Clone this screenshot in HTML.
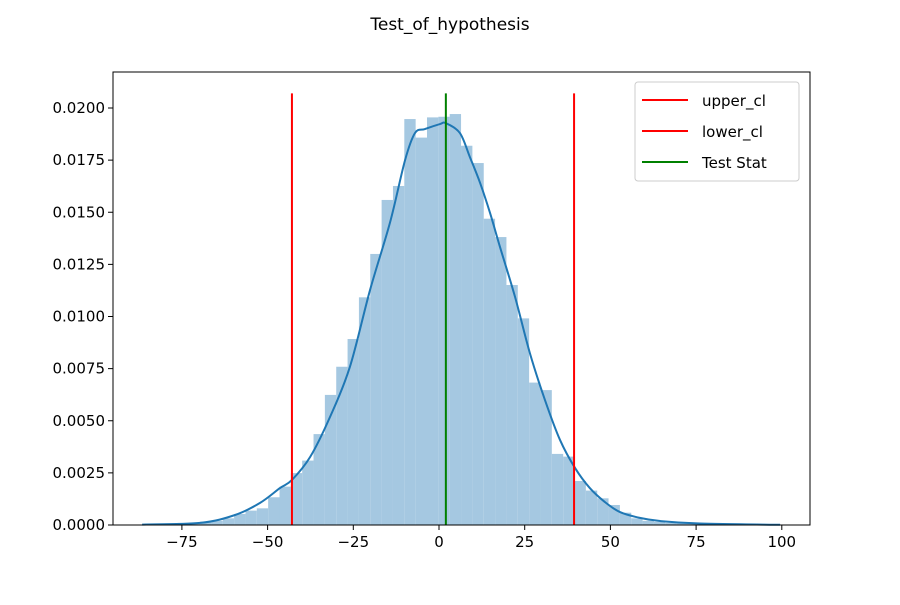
<!DOCTYPE html>
<html><head><meta charset="utf-8"><style>
body{margin:0;background:#fff}
svg text{font-family:"DejaVu Sans","Liberation Sans",sans-serif;fill:#000}
</style></head><body>
<svg id="chart" width="900" height="600" xmlns="http://www.w3.org/2000/svg">
<rect width="900" height="600" fill="#fff"/>
<text x="450" y="30" text-anchor="middle" font-size="17">Test_of_hypothesis</text>
<g id="bars"></g>
<g id="kde"></g>
<g id="vlines"></g>
<g id="axes"></g>
<g>
<rect x="635" y="82" width="164" height="99" rx="3" fill="#fff" fill-opacity="0.8" stroke="#ccc"/>
<g><line x1="642" y1="100" x2="688" y2="100" stroke="#ff0000" stroke-width="2"/><text x="702" y="106" font-size="15">upper_cl</text></g>
<g><line x1="642" y1="131" x2="688" y2="131" stroke="#ff0000" stroke-width="2"/><text x="702" y="137" font-size="15">lower_cl</text></g>
<g><line x1="642" y1="162" x2="688" y2="162" stroke="#008000" stroke-width="2"/><text x="702" y="168" font-size="15">Test Stat</text></g>
</g>
</svg>
<script>
const binStart = -86.25;
const binWidth = 3.31;
const histValues = [0.00003,0.00005,0.00005,0.0001,0.00012,0.00016,0.0002,0.00032,0.00053,0.00069,0.0008,0.00133,0.00184,0.00249,0.00309,0.00436,0.00624,0.00759,0.00892,0.01092,0.0130,0.01559,0.01626,0.01947,0.01858,0.01955,0.01958,0.01971,0.01819,0.01736,0.01469,0.01381,0.01151,0.00991,0.00683,0.00647,0.00341,0.00328,0.00211,0.00165,0.00128,0.00096,0.00059,0.00032,0.0002,0.00015,0.0001,0.00008,0.00005,0.00004,0.00003,0.00002];
const kdeX = [-86.6,-69.7,-59.5,-52.2,-46.4,-42.9,-37.6,-31.8,-26.0,-20.1,-14.3,-9.9,-7.0,-4.1,0.3,2.0,6.1,9.0,12.0,14.9,17.8,22.2,26.5,30.9,35.3,39.7,44.0,48.4,52.8,58.6,64.5,76.1,99.5];
const kdeY = [0.00002,0.0001,0.00048,0.00106,0.00177,0.00216,0.00326,0.00518,0.00758,0.01128,0.0145,0.0175,0.0188,0.01899,0.01923,0.01927,0.0188,0.01765,0.0164,0.01496,0.01333,0.01093,0.00825,0.006,0.00408,0.00273,0.00177,0.0011,0.00062,0.00034,0.00019,0.00007,0.00001];
const lowerCl = -42.9;
const upperCl = 39.4;
const testStat = 2.0;
const lineTop = 0.0207;
const xTicks = [-75,-50,-25,0,25,50,75,100];
const yTicks = [0,0.0025,0.005,0.0075,0.01,0.0125,0.015,0.0175,0.02];
const yTickLabels = ["0.0000","0.0025","0.0050","0.0075","0.0100","0.0125","0.0150","0.0175","0.0200"];

const L=113,R=810,T=72,B=525;
const xs=v=>439+v*3.428;
const ys=v=>525-v*20850;
const NS="http://www.w3.org/2000/svg";
function mk(tag,attrs,parent){const e=document.createElementNS(NS,tag);for(const k in attrs)e.setAttribute(k,attrs[k]);parent.appendChild(e);return e;}

const bars=document.getElementById('bars');
histValues.forEach((v,i)=>{
  const x0=xs(binStart+i*binWidth),x1=xs(binStart+(i+1)*binWidth);
  const r=mk('rect',{x:x0,y:ys(v),width:x1-x0,height:B-ys(v),fill:'#a5c8e1'},bars);
  
  
});
const kde=document.getElementById('kde');
const pts=kdeX.map((x,i)=>[xs(x),ys(kdeY[i])]);
let d='M'+pts[0][0]+','+pts[0][1];
for(let i=0;i<pts.length-1;i++){
  const p0=pts[Math.max(0,i-1)],p1=pts[i],p2=pts[i+1],p3=pts[Math.min(pts.length-1,i+2)];
  const c1x=p1[0]+(p2[0]-p0[0])/6,c1y=p1[1]+(p2[1]-p0[1])/6;
  const c2x=p2[0]-(p3[0]-p1[0])/6,c2y=p2[1]-(p3[1]-p1[1])/6;
  d+=' C'+c1x+','+c1y+' '+c2x+','+c2y+' '+p2[0]+','+p2[1];
}
const p=mk('path',{d:d,fill:'none',stroke:'#1f77b4','stroke-width':2},kde);



const vl=document.getElementById('vlines');
[[upperCl,'#ff0000','upper-cl-line'],[lowerCl,'#ff0000','lower-cl-line'],[testStat,'#008000','test-stat-line']].forEach(([v,c,n])=>{
  const l=mk('line',{x1:xs(v),x2:xs(v),y1:ys(lineTop),y2:B,stroke:c,'stroke-width':2},vl);
  
  
});

const ax=document.getElementById('axes');
const frame=mk('rect',{x:L,y:T,width:R-L,height:B-T,fill:'none',stroke:'#000','stroke-width':1},ax);


xTicks.forEach(t=>{
  const x=xs(t);
  const tk=mk('line',{x1:x,x2:x,y1:B,y2:B+5,stroke:'#000'},ax);
  
  
  const tx=mk('text',{x:x,y:B+22,'text-anchor':'middle','font-size':15},ax);
  tx.textContent=(t<0?'\u2212'+(-t):String(t));
  
  
});
yTicks.forEach((t,i)=>{
  const y=ys(t);
  const tk=mk('line',{x1:L-5,x2:L,y1:y,y2:y,stroke:'#000'},ax);
  
  
  const tx=mk('text',{x:L-8,y:y+5,'text-anchor':'end','font-size':15},ax);
  tx.textContent=yTickLabels[i];
  
  
});
</script>
</body></html>
